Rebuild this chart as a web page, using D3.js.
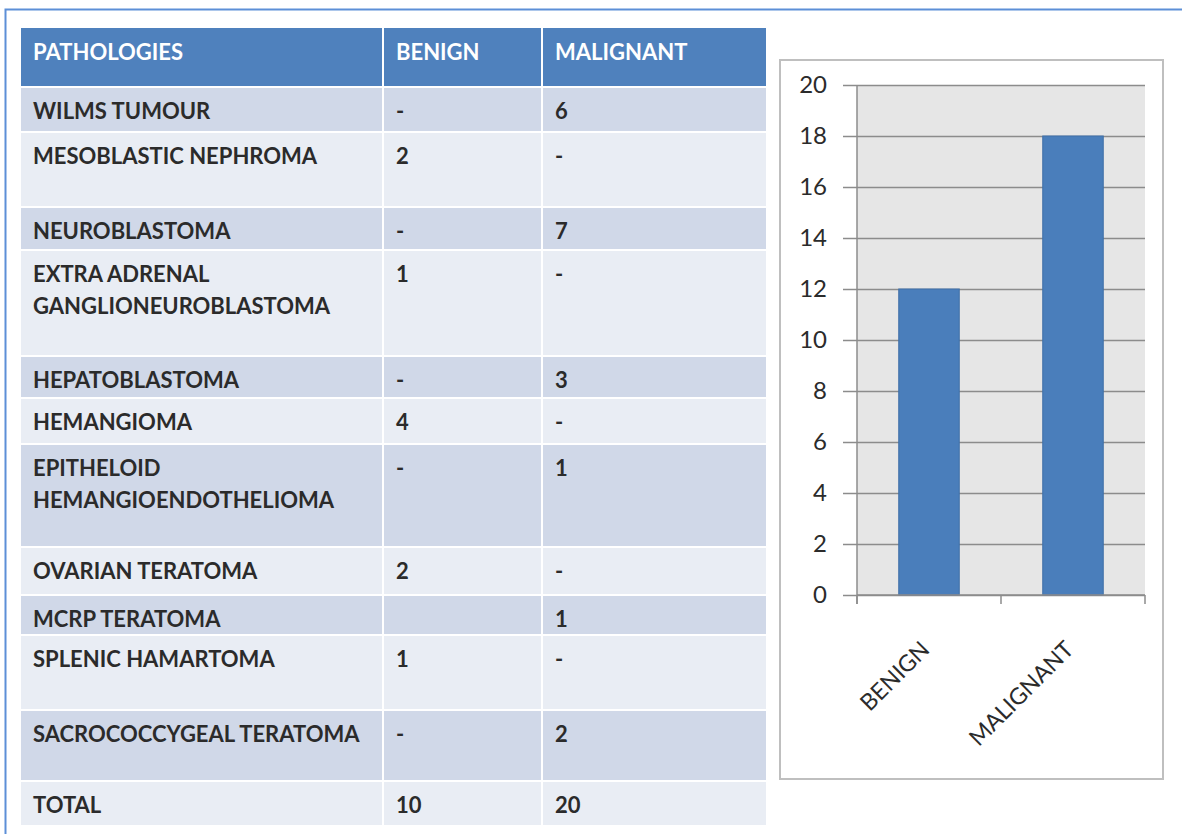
<!DOCTYPE html>
<html>
<head>
<meta charset="utf-8">
<script src="https://cdn.jsdelivr.net/npm/d3@7"></script>
<style>
  html, body { margin: 0; padding: 0; background: #fff; }
  svg { display: block; font-family: Lato, "Open Sans", sans-serif; }
</style>
</head>
<body>
<div id="root"></div>
<script>
// table data
const headers = ['PATHOLOGIES', 'BENIGN', 'MALIGNANT'];
const pathologies = [
  'WILMS TUMOUR', 'MESOBLASTIC NEPHROMA', 'NEUROBLASTOMA',
  'EXTRA ADRENAL\nGANGLIONEUROBLASTOMA', 'HEPATOBLASTOMA', 'HEMANGIOMA',
  'EPITHELOID\nHEMANGIOENDOTHELIOMA', 'OVARIAN TERATOMA', 'MCRP TERATOMA',
  'SPLENIC HAMARTOMA', 'SACROCOCCYGEAL TERATOMA', 'TOTAL'
];
const benign = ['-', '2', '-', '1', '-', '4', '-', '2', '', '1', '-', '10'];
const malignant = ['6', '-', '7', '-', '3', '-', '1', '-', '1', '-', '2', '20'];

// chart data
const categories = ['BENIGN', 'MALIGNANT'];
const totals = [12, 18];
const yTicks = [0, 2, 4, 6, 8, 10, 12, 14, 16, 18, 20];

// layout (word table rows have uneven heights)
const rowHeights = [43, 73, 41, 104, 40, 44, 101, 46, 38, 73, 69, 43];
const colEdges = [21, 384, 543, 768];
const W = 1182, H = 834;

const svg = d3.select('#root').append('svg')
  .attr('width', W).attr('height', H);

// page frame
svg.append('path')
  .attr('d', `M5.5,${H} V9.5 H${W}`)
  .attr('fill', 'none').attr('stroke', '#5d8fd7').attr('stroke-width', 2);

// ---- table ----
const table = svg.append('g');
const gap = 2;
const headerTop = 28, headerH = 58;

headers.forEach((h, i) => {
  const x0 = colEdges[i], x1 = colEdges[i + 1] - gap;
  table.append('rect')
    .attr('x', x0).attr('y', headerTop)
    .attr('width', x1 - x0).attr('height', headerH)
    .attr('fill', '#4f81bd');
  table.append('text')
    .attr('x', x0 + 12).attr('y', headerTop + 24)
    .attr('dy', '0.35em')
    .attr('fill', '#fff').attr('font-weight', 700).attr('font-size', 22)
    .text(h);
});

let rowTop = headerTop + headerH + gap;
const rows = pathologies.map((p, i) => {
  const r = { cells: [p, benign[i], malignant[i]], top: rowTop, h: rowHeights[i], idx: i };
  rowTop += rowHeights[i] + gap;
  return r;
});

rows.forEach(r => {
  const fill = r.idx % 2 === 0 ? '#d0d8e8' : '#e9edf4';
  r.cells.forEach((c, j) => {
    const x0 = colEdges[j], x1 = colEdges[j + 1] - gap;
    table.append('rect')
      .attr('x', x0).attr('y', r.top)
      .attr('width', x1 - x0).attr('height', r.h)
      .attr('fill', fill);
    const t = table.append('text')
      .attr('fill', '#2b2b2b').attr('font-weight', 700).attr('font-size', 22);
    c.split('\n').forEach((line, k) => {
      t.append('tspan')
        .attr('x', x0 + 12).attr('y', r.top + 23 + k * 32)
        .attr('dy', '0.35em')
        .text(line);
    });
  });
});

// ---- bar chart ----
const frame = { x: 780, y: 60, w: 383, h: 719 };
svg.append('rect')
  .attr('x', frame.x).attr('y', frame.y)
  .attr('width', frame.w).attr('height', frame.h)
  .attr('fill', '#fff').attr('stroke', '#bfbfbf').attr('stroke-width', 2);

const plot = { left: 857, right: 1145, top: 85, bottom: 595 };

const y = d3.scaleLinear().domain([0, 20]).range([plot.bottom, plot.top]);
const x = d3.scaleBand().domain(categories)
  .range([plot.left, plot.right])
  .paddingInner(0.58).paddingOuter(0.29);

const chart = svg.append('g');
chart.append('rect')
  .attr('x', plot.left).attr('y', plot.top)
  .attr('width', plot.right - plot.left).attr('height', plot.bottom - plot.top)
  .attr('fill', '#e6e6e6');

// gridlines + y axis
const yAxis = chart.append('g')
  .attr('transform', `translate(${plot.left},0)`)
  .call(d3.axisLeft(y).tickValues(yTicks).tickSize(14).tickPadding(16));
yAxis.select('.domain').remove();
yAxis.selectAll('.tick line')
  .attr('stroke', '#8c8c8c').attr('stroke-width', 1.5)
  .attr('x1', -14).attr('x2', plot.right - plot.left);
yAxis.selectAll('.tick text')
  .attr('font-family', 'Lato, sans-serif').attr('font-size', 24)
  .attr('fill', '#2b2b2b');

// bars
chart.selectAll('rect.bar').data(categories).enter().append('rect')
  .attr('class', 'bar')
  .attr('x', d => x(d)).attr('width', x.bandwidth())
  .attr('y', (d, i) => y(totals[i]))
  .attr('height', (d, i) => y(0) - y(totals[i]))
  .attr('fill', '#4a7ebb').attr('stroke', '#3f6fa8').attr('stroke-width', 1);

// axis lines
chart.append('line')
  .attr('x1', plot.left).attr('x2', plot.left)
  .attr('y1', plot.top).attr('y2', plot.bottom + 9)
  .attr('stroke', '#8c8c8c').attr('stroke-width', 1.5);
chart.append('line')
  .attr('x1', plot.left).attr('x2', plot.right)
  .attr('y1', plot.bottom).attr('y2', plot.bottom)
  .attr('stroke', '#8c8c8c').attr('stroke-width', 1.5);
[0, 1, 2].forEach(k => {
  const xx = plot.left + k * (plot.right - plot.left) / 2;
  chart.append('line')
    .attr('x1', xx).attr('x2', xx)
    .attr('y1', plot.bottom).attr('y2', plot.bottom + 9)
    .attr('stroke', '#8c8c8c').attr('stroke-width', 1.5);
});

// rotated category labels
chart.selectAll('text.cat').data(categories).enter().append('text')
  .attr('class', 'cat')
  .attr('text-anchor', 'end')
  .attr('font-size', 23).attr('fill', '#2b2b2b')
  .attr('transform', d => `translate(${x(d) + x.bandwidth() / 2 + 2},${plot.bottom + 56}) rotate(-45)`)
  .text(d => d);
</script>
</body>
</html>
